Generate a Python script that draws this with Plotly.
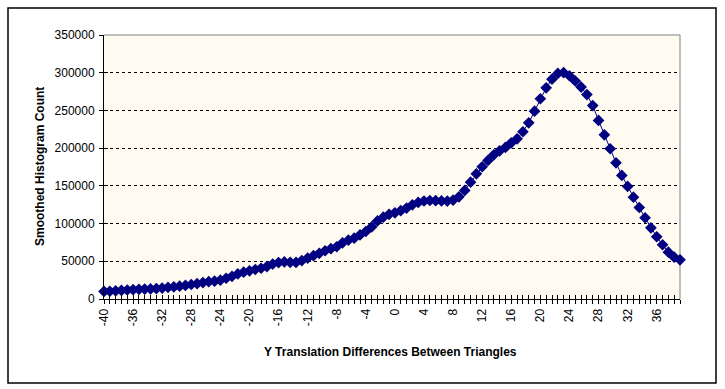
import plotly.graph_objects as go

# x categories: -40 .. 39.2 in steps of 0.8
x_start = -40.0
x_step = 0.8
counts = [
    10000, 10300, 10800, 11400, 11900, 12300, 12800, 13200, 13300, 13800,
    14500, 15300, 16000, 17000, 18000, 19200, 20300, 21800, 23000, 23600,
    25000, 27500, 30000, 33200, 35500, 37400, 39100, 40800, 43000, 46300,
    48300, 49200, 48600, 48500, 51000, 54200, 57500, 60500, 64000, 66700,
    69300, 74500, 78000, 80700, 84900, 89500, 95500, 103500, 108500, 112300,
    114200, 117100, 120500, 124800, 128000, 129900, 130600, 130300, 130000, 129800,
    131000, 135500, 143900, 154900, 166000, 175300, 183700, 191200, 196500, 200900,
    207100, 212400, 221700, 233600, 249000, 265500, 280000, 291500, 299000, 300000,
    296000, 289000, 281000, 271000, 256500, 236700, 217700, 199200, 180600, 163800,
    149200, 135000, 121300, 107700, 94400, 82500, 71900, 62100, 55400, 52000,
]
x_vals = [round(x_start + x_step * i, 1) for i in range(len(counts))]
x_tick_labels = [str(v) for v in range(-40, 37, 4)]
y_ticks = list(range(0, 350001, 50000))
y_tick_labels = [str(v) for v in y_ticks]

FONT = "Liberation Sans, Arial, sans-serif"
NAVY = "#000080"

fig = go.Figure()
fig.add_trace(go.Scatter(
    x=x_vals, y=counts, mode="lines+markers",
    line=dict(color=NAVY, width=1),
    marker=dict(symbol="diamond", size=9, color=NAVY),
    cliponaxis=False, showlegend=False,
))
# invisible trace for overlay axes (cross tick marks)
fig.add_trace(go.Scatter(x=[x_vals[0]], y=[0], xaxis="x2", yaxis="y2",
                         mode="markers", marker=dict(opacity=0), showlegend=False,
                         hoverinfo="skip"))

xr = [x_vals[0], x_vals[-1]]
yr = [0, 350000]

fig.update_layout(
    width=725, height=389,
    margin=dict(l=104, r=45, t=35, b=90),
    paper_bgcolor="white",
    plot_bgcolor="#FFFBF0",
    font=dict(family=FONT, size=12, color="black"),
    xaxis=dict(
        range=xr, tickmode="array", tickvals=[float(v) for v in x_tick_labels],
        ticktext=x_tick_labels, tickangle=-90,
        ticks="outside", ticklen=4, tickcolor="black",
        minor=dict(ticks="outside", ticklen=4, tick0=-40, dtick=0.8, tickcolor="black", showgrid=False),
        showline=True, linecolor="black", linewidth=1,
        showgrid=False, zeroline=False,
        tickfont=dict(family=FONT, size=12),
    ),
    yaxis=dict(
        range=yr, tickmode="array", tickvals=y_ticks, ticktext=y_tick_labels,
        ticks="outside", ticklen=4, tickcolor="black",
        showline=True, linecolor="black", linewidth=1,
        showgrid=True, gridcolor="black", griddash="3px,3px", gridwidth=1,
        zeroline=False, ticklabelstandoff=2,
        tickfont=dict(family=FONT, size=12),
    ),
    xaxis2=dict(
        overlaying="x", anchor="y2", range=xr, tickmode="array",
        tickvals=[float(v) for v in x_tick_labels], showticklabels=False,
        ticks="inside", ticklen=4, tickcolor="black",
        minor=dict(ticks="inside", ticklen=4, tick0=-40, dtick=0.8, tickcolor="black", showgrid=False),
        showline=False, showgrid=False, zeroline=False,
    ),
    yaxis2=dict(
        overlaying="y", anchor="x2", side="left", range=yr, tickmode="array",
        tickvals=y_ticks, showticklabels=False,
        ticks="inside", ticklen=4, tickcolor="black",
        showline=False, showgrid=False, zeroline=False,
    ),
    shapes=[
        # gray plot-area border (top and right)
        dict(type="line", xref="paper", yref="paper", x0=0, x1=1, y0=1, y1=1,
             line=dict(color="#808080", width=1), layer="between"),
        dict(type="line", xref="paper", yref="paper", x0=1, x1=1, y0=0, y1=1,
             line=dict(color="#808080", width=1), layer="between"),
        # outer chart border
        dict(type="rect", xref="paper", yref="paper",
             x0=(8 - 104) / 576, x1=(716 - 104) / 576,
             y0=(299 - 383) / 264, y1=(299 - 8) / 264,
             line=dict(color="black", width=1.5), layer="below"),
    ],
    annotations=[
        dict(text="<b>Y Translation Differences Between Triangles</b>",
             xref="paper", yref="paper", x=(390 - 104) / 576, y=(299 - 352) / 264,
             showarrow=False, xanchor="center", yanchor="middle",
             font=dict(family=FONT, size=12)),
        dict(text="<b>Smoothed Histogram Count</b>",
             xref="paper", yref="paper", x=(40 - 104) / 576, y=(299 - 167) / 264,
             showarrow=False, xanchor="center", yanchor="middle", textangle=-90,
             font=dict(family=FONT, size=12)),
    ],
)

fig.write_html("out.html", config={"displayModeBar": False},
               post_script="document.body.style.margin='0';document.body.style.overflow='hidden';")
